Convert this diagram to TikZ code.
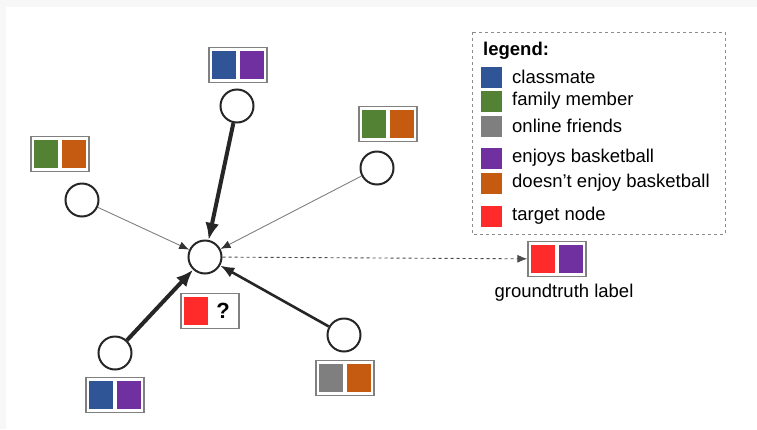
\documentclass[tikz,border=0pt]{standalone}
\usepackage{fontspec}
\setmainfont{Liberation Sans}
\usetikzlibrary{arrows.meta,positioning}
\definecolor{cmblue}{HTML}{2F5597}
\definecolor{famgreen}{HTML}{548235}
\definecolor{onlgray}{HTML}{7F7F7F}
\definecolor{bbpurple}{HTML}{7030A0}
\definecolor{nobborange}{HTML}{C55A11}
\definecolor{tgtred}{HTML}{FF2B2B}
\tikzstyle{user} = [draw=black!85, line width=2, circle, minimum size=33, inner sep=0]
\tikzstyle{lblbox} = [draw=gray, line width=1.4, minimum width=58, minimum height=35, inner sep=0]
\tikzstyle{sq} = [minimum width=24, minimum height=28, inner sep=0]
\tikzstyle{keysq} = [minimum size=21, inner sep=0]
\tikzstyle{keytxt} = [anchor=west, inner sep=0]
\tikzstyle{strong} = [draw=black!85, line width=4, -{Latex[length=17,width=14]}]
\tikzstyle{medium} = [draw=black!85, line width=2.6, -{Latex[length=14,width=11]}]
\tikzstyle{weak} = [draw=black!50, line width=0.9, -{Latex[length=10,width=8,color=black!80]}]

\begin{document}
\begin{tikzpicture}[x=1pt,y=-1pt,font=\fontsize{18.5}{21}\selectfont]
    % page frame
    \useasboundingbox (0,0) rectangle (757,429);
    \fill[black!3] (0,0) rectangle (757,429);
    \fill[white] (6,7) rectangle (757,429);

    % users
    \node[user] (ctr) at (205,257) {};
    \node[user] (top) at (237,106) {};
    \node[user] (ul) at (82,200) {};
    \node[user] (ur) at (377,168) {};
    \node[user] (ll) at (115,353) {};
    \node[user] (lr) at (344,335) {};

    % label boxes
    \node[lblbox] (topbox) at (238,65) {};
    \node[sq,fill=cmblue] (topbox-a) at ([xshift=-14]topbox.center) {};
    \node[sq,fill=bbpurple] (topbox-b) at ([xshift=14]topbox.center) {};
    \node[lblbox] (ulbox) at (60,154) {};
    \node[sq,fill=famgreen] (ulbox-a) at ([xshift=-14]ulbox.center) {};
    \node[sq,fill=nobborange] (ulbox-b) at ([xshift=14]ulbox.center) {};
    \node[lblbox] (urbox) at (388,124) {};
    \node[sq,fill=famgreen] (urbox-a) at ([xshift=-14]urbox.center) {};
    \node[sq,fill=nobborange] (urbox-b) at ([xshift=14]urbox.center) {};
    \node[lblbox] (llbox) at (115,395) {};
    \node[sq,fill=cmblue] (llbox-a) at ([xshift=-14]llbox.center) {};
    \node[sq,fill=bbpurple] (llbox-b) at ([xshift=14]llbox.center) {};
    \node[lblbox] (lrbox) at (345,378) {};
    \node[sq,fill=onlgray] (lrbox-a) at ([xshift=-14]lrbox.center) {};
    \node[sq,fill=nobborange] (lrbox-b) at ([xshift=14]lrbox.center) {};

    % target and groundtruth
    \node[lblbox] (tgtbox) at (210,311) {};
    \node[sq,fill=tgtred] (tgtbox-a) at ([xshift=-14]tgtbox.center) {};
    \node[inner sep=0,font=\fontsize{22}{24}\selectfont\bfseries] (tgtbox-q) at ([xshift=13]tgtbox.center) {?};
    \node[lblbox] (gt) at (557,259) {};
    \node[sq,fill=tgtred] (gt-a) at ([xshift=-14]gt.center) {};
    \node[sq,fill=bbpurple] (gt-b) at ([xshift=14]gt.center) {};
    \node[below=3pt of gt, xshift=7] (gtlbl) {groundtruth label};

    % edges
    \draw[strong] (top) -- (ctr);
    \draw[strong] (ll) -- (ctr);
    \draw[medium] (lr) -- (ctr);
    \draw[weak] (ul) -- (ctr);
    \draw[weak] (ur) -- (ctr);
    \draw[dashed, draw=black!70, line width=0.9, -{Latex[length=10,width=8]}] (ctr) -- (gt);

    % legend
    \draw[dashed, draw=black!45, line width=1] (472,32) rectangle (725,234);
    \node[keytxt,font=\fontsize{18.5}{21}\selectfont\bfseries] (keyhead) at (483,51) {legend:};
    \node[keysq,fill=cmblue] (k1) at (491,77) {};
    \node[keytxt] (k1t) at (512,77) {classmate};
    \node[keysq,fill=famgreen] (k2) at (491,101) {};
    \node[keytxt] (k2t) at (512,101) {family member};
    \node[keysq,fill=onlgray] (k3) at (491,126) {};
    \node[keytxt] (k3t) at (512,126) {online friends};
    \node[keysq,fill=bbpurple] (k4) at (491,158) {};
    \node[keytxt] (k4t) at (512,158) {enjoys basketball};
    \node[keysq,fill=nobborange] (k5) at (491,183) {};
    \node[keytxt] (k5t) at (512,183) {doesn’t enjoy basketball};
    \node[keysq,fill=tgtred] (k6) at (491,216) {};
    \node[keytxt] (k6t) at (512,216) {target node};
\end{tikzpicture}
\end{document}
